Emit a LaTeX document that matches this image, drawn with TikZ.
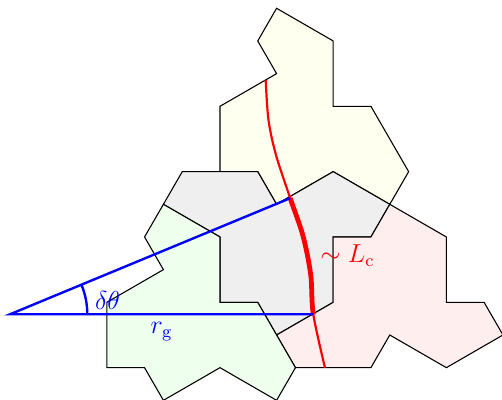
\documentclass[tikz,border=0pt]{standalone}
\usetikzlibrary{calc}
\definecolor{yfill}{RGB}{255,255,240}
\definecolor{gfill}{RGB}{239,239,239}
\definecolor{pfill}{RGB}{255,238,238}
\definecolor{grfill}{RGB}{238,255,238}
\begin{document}
\begin{tikzpicture}[x=0.0162cm,y=0.0162cm,
  grain/.style={draw=black,line width=0.5pt,line join=miter},
  ray/.style={blue,line width=1.1pt},
  curvethin/.style={red,line width=1pt},
  curvethick/.style={red,line width=2.2pt},
  lbl/.style={font=\fontsize{12}{14}\selectfont}]
\useasboundingbox (0,0) rectangle (502,400);
% grains on the lattice
\begin{scope}[shift={(220,391.7)},x=0.30569cm,y=-0.52942cm]
  \filldraw[grain,fill=yfill] (3,0) -- (6,1) -- (6,3) -- (8,3) -- (10,5) -- (9,6) -- (6,5) -- (3,6) -- (2,5) -- (0,5) -- (0,3) -- (3,2) -- (2,1) -- cycle;
  \filldraw[grain,fill=gfill] (-2,5) -- (2,5) -- (3,6) -- (6,5) -- (9,6) -- (8,7) -- (6,7) -- (6,9) -- (3,10) -- (2,9) -- (0,9) -- (0,7) -- (-3,6) -- cycle;
  \filldraw[grain,fill=pfill] (3,10) -- (6,9) -- (6,7) -- (8,7) -- (9,6) -- (12,7) -- (12,9) -- (14,9) -- (15,10) -- (12,11) -- (9,10) -- (8,11) -- (4,11) -- cycle;
  \filldraw[grain,fill=grfill] (-3,6) -- (0,7) -- (0,9) -- (2,9) -- (3,10) -- (4,11) -- (3,12) -- (0,11) -- (-3,12) -- (-4,11) -- (-6,11) -- (-6,9) -- (-3,8) -- (-4,7) -- cycle;
\end{scope}
% apex and ray ends
\coordinate (A) at (10,85.7);
\coordinate (B1) at (313.3,85.7);
\coordinate (B2) at (290.2,201.8);
% red curve
\draw[curvethin] plot[smooth,tension=0.55] coordinates {(265.7,320) (268.5,280) (276,245) (290.2,201.8) (302.96,164.2) (310.7,125.3) (313.3,85.7) (325,32.2)};
\begin{scope}
  \clip (A) -- ($(A)+(0:420)$) -- ($(A)+(22.5:420)$) -- cycle;
  \draw[curvethick] plot[smooth,tension=0.55] coordinates {(265.7,320) (268.5,280) (276,245) (290.2,201.8) (302.96,164.2) (310.7,125.3) (313.3,85.7) (325,32.2)};
\end{scope}
% rays
\draw[ray] (B2) -- (A) -- (B1) node[midway,below,text=blue,lbl] (rg) {$r_{\mathrm{g}}$};
\draw[ray] ($(A)+(77.3,0)$) arc[start angle=0,end angle=22.5,radius=77.3];
\node[text=blue,lbl] (dt) at (107.5,100) {$\delta\theta$};
\node[text=red,lbl] (lc) at (347.5,144) {$\sim L_{\mathrm{c}}$};
\end{tikzpicture}
\end{document}
